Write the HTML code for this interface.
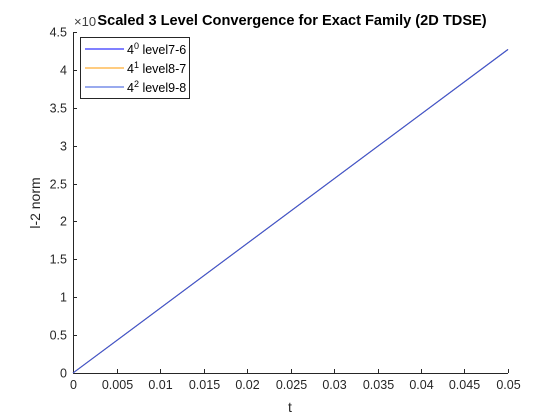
<!DOCTYPE html>
<html><head><meta charset="utf-8"><style>
body{margin:0;background:#fff;}
svg{display:block;font-family:"Liberation Sans",sans-serif;}
</style></head><body>
<svg id="chart" width="560" height="420">
<rect width="560" height="420" fill="#fff"/>
<g id="axes"></g>
<g id="series"></g>
<text x="74" y="26" font-size="13" fill="#404040">×10</text>
<text x="292" y="25" font-size="14.6" font-weight="bold" text-anchor="middle" fill="#000">Scaled 3 Level Convergence for Exact Family (2D TDSE)</text>
<text x="290" y="412" font-size="14" text-anchor="middle" fill="#262626">t</text>
<text transform="translate(40,203) rotate(-90)" font-size="14" text-anchor="middle" fill="#262626">l-2 norm</text>
<g>
<rect x="80.5" y="37.5" width="109" height="61" fill="#fff" stroke="#262626" stroke-width="1"/>
<g><line x1="85" y1="49" x2="124" y2="49" stroke="#0000ff"/><text x="127" y="54" font-size="12.5" fill="#000">4<tspan dy="-5" font-size="9">0</tspan><tspan dy="5"> level7-6</tspan></text></g>
<g><line x1="85" y1="68" x2="124" y2="68" stroke="#ff9900"/><text x="127" y="73" font-size="12.5" fill="#000">4<tspan dy="-5" font-size="9">1</tspan><tspan dy="5"> level8-7</tspan></text></g>
<g><line x1="85" y1="87" x2="124" y2="87" stroke="#3355dd"/><text x="127" y="92" font-size="12.5" fill="#000">4<tspan dy="-5" font-size="9">2</tspan><tspan dy="5"> level9-8</tspan></text></g>
</g>
</svg>
<script>
const xTicks=[0,0.005,0.01,0.015,0.02,0.025,0.03,0.035,0.04,0.045,0.05];
const xTickLabels=["0","0.005","0.01","0.015","0.02","0.025","0.03","0.035","0.04","0.045","0.05"];
const yTicks=[0,0.5,1,1.5,2,2.5,3,3.5,4,4.5];
const yTickLabels=["0","0.5","1","1.5","2","2.5","3","3.5","4","4.5"];
const tValues=[0,0.05];
const series1=[0,4.27];
const series2=[0,4.27];
const series3=[0,4.27];
const L=73,R=508,T=32,B=373;
const xs=v=>L+(v-0)/(0.05-0)*(R-L);
const ys=v=>B-(v-0)/(4.5-0)*(B-T);
const NS="http://www.w3.org/2000/svg";
const ax=document.getElementById('axes');
function mk(tag,attrs,parent){const e=document.createElementNS(NS,tag);for(const k in attrs)e.setAttribute(k,attrs[k]);parent.appendChild(e);return e;}
let e=mk('line',{x1:L,y1:B+0.5,x2:R,y2:B+0.5,stroke:'#262626'},ax);


e=mk('line',{x1:L+0.5,y1:T,x2:L+0.5,y2:B,stroke:'#262626'},ax);


xTicks.forEach((v,i)=>{const x=Math.round(xs(v))+0.5;
let t=mk('line',{x1:x,y1:B,x2:x,y2:B-4,stroke:'#262626'},ax);


let l=mk('text',{x:x,y:B+16,'font-size':12.5,'text-anchor':'middle',fill:'#262626'},ax);l.textContent=xTickLabels[i];

});
yTicks.forEach((v,i)=>{const y=Math.round(ys(v))+0.5;
let t=mk('line',{x1:L,y1:y,x2:L+4,y2:y,stroke:'#262626'},ax);


let l=mk('text',{x:L-6,y:y+4,'font-size':12.5,'text-anchor':'end',fill:'#262626'},ax);l.textContent=yTickLabels[i];

});
const sg=document.getElementById('series');
[[series1,'#0000ff','series-level7-6'],[series2,'#ff9900','series-level8-7'],[series3,'#3355dd','series-level9-8']].forEach(s=>{
const d=s[0].map((v,i)=>(i?'L':'M')+xs(tValues[i])+','+ys(v)).join('');
let p=mk('path',{d:d,fill:'none',stroke:s[1],'stroke-width':1},sg);

});
</script>
</body></html>
